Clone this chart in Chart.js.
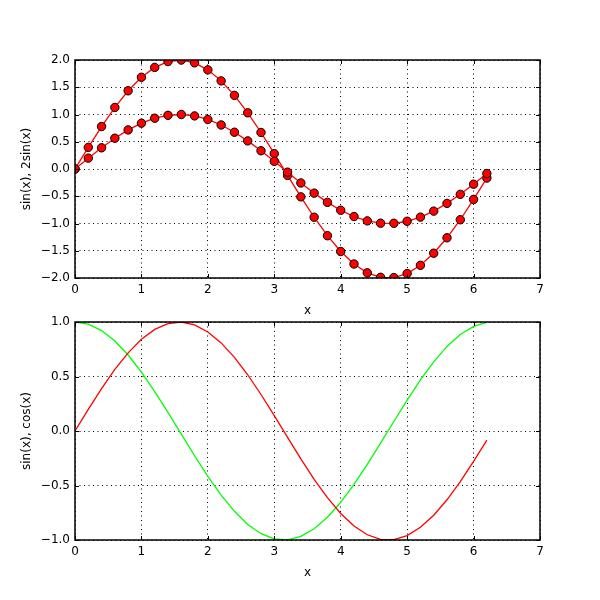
<!DOCTYPE html>
<html><head><meta charset="utf-8">
<script src="https://cdn.jsdelivr.net/npm/chart.js@4/dist/chart.umd.min.js"></script>
<style>
html,body{margin:0;padding:0;background:#fff;width:600px;height:600px;overflow:hidden;}
canvas{position:absolute;left:0;}
#c1{top:0;}
#c2{top:300px;}
</style></head><body>
<canvas id="c1" width="600" height="330"></canvas>
<canvas id="c2" width="600" height="300"></canvas>
<script>
const xValues = [0,0.2,0.4,0.6,0.8,1.0,1.2,1.4,1.6,1.8,2.0,2.2,2.4,2.6,2.8,3.0,3.2,3.4,3.6,3.8,4.0,4.2,4.4,4.6,4.8,5.0,5.2,5.4,5.6,5.8,6.0,6.2];
const sinValues = [0,0.199,0.389,0.565,0.717,0.841,0.932,0.985,1.000,0.974,0.909,0.808,0.675,0.516,0.335,0.141,-0.058,-0.256,-0.443,-0.612,-0.757,-0.872,-0.952,-0.994,-0.996,-0.959,-0.883,-0.773,-0.631,-0.465,-0.279,-0.083];
const twoSinValues = [0,0.397,0.779,1.129,1.435,1.683,1.864,1.971,1.999,1.948,1.819,1.617,1.351,1.031,0.670,0.282,-0.117,-0.511,-0.885,-1.224,-1.514,-1.743,-1.905,-1.987,-1.992,-1.918,-1.767,-1.545,-1.262,-0.931,-0.558,-0.166];
const cosValues = [1,0.980,0.921,0.825,0.697,0.540,0.362,0.170,-0.029,-0.227,-0.416,-0.589,-0.737,-0.857,-0.942,-0.990,-0.998,-0.967,-0.897,-0.791,-0.654,-0.490,-0.307,-0.112,0.087,0.284,0.469,0.635,0.776,0.886,0.960,0.997];
const xTicks = [0,1,2,3,4,5,6,7];
const yTicksTop = [-2,-1.5,-1,-0.5,0,0.5,1,1.5,2];
const yTicksBottom = [-1,-0.5,0,0.5,1];

const pts = (ys) => xValues.map((x,i)=>({x:x,y:ys[i]}));
const fmt = (v) => { const s = Math.abs(v).toFixed(1); return v < 0 ? '\u2212' + s : s; };
const FONT = {family:'DejaVu Sans', size:12};

const frame = {
  id:'frame',
  afterDraw(chart){
    const {ctx, chartArea:a, scales} = chart;
    ctx.save();
    ctx.strokeStyle = '#000';
    ctx.lineWidth = 1;
    const L = 4;
    ctx.beginPath();
    scales.x.ticks.forEach(t=>{
      const px = Math.round(scales.x.getPixelForValue(t.value))+0.5;
      ctx.moveTo(px, a.bottom); ctx.lineTo(px, a.bottom-L);
      ctx.moveTo(px, a.top); ctx.lineTo(px, a.top+L);
    });
    scales.y.ticks.forEach(t=>{
      const py = Math.round(scales.y.getPixelForValue(t.value))+0.5;
      ctx.moveTo(a.left, py); ctx.lineTo(a.left+L, py);
      ctx.moveTo(a.right, py); ctx.lineTo(a.right-L, py);
    });
    ctx.stroke();
    ctx.lineWidth = 1.5;
    ctx.strokeRect(a.left, a.top, a.right-a.left, a.bottom-a.top);
    ctx.restore();
  }
};

function makeChart(id, datasets, yTicks, yTitle, padTop, xAxisH, xTitlePad){
  return new Chart(document.getElementById(id), {
    type:'line',
    data:{datasets:datasets},
    plugins:[frame],
    options:{
      responsive:false, animation:false, devicePixelRatio:1,
      layout:{padding:{left:0,right:60,top:padTop,bottom:0}},
      plugins:{legend:{display:false}, tooltip:{enabled:false}},
      scales:{
        x:{type:'linear', min:0, max:7,
           afterBuildTicks:(s)=>{s.ticks = xTicks.map(v=>({value:v}));},
           afterFit:(s)=>{s.height = xAxisH;},
           ticks:{font:FONT, color:'#000', padding:5, maxRotation:0, autoSkip:false, callback:(v)=>String(v)},
           grid:{color:'#000', lineWidth:1, drawTicks:false},
           border:{display:false, dash:[1,3.5]},
           title:{display:true, text:'x', font:FONT, color:'#000', padding:{top:0,bottom:xTitlePad}}},
        y:{type:'linear', min:yTicks[0], max:yTicks[yTicks.length-1],
           afterBuildTicks:(s)=>{s.ticks = yTicks.map(v=>({value:v}));},
           afterFit:(s)=>{s.width = 75;},
           ticks:{font:FONT, color:'#000', padding:5, autoSkip:false, callback:(v)=>fmt(v)},
           grid:{color:'#000', lineWidth:1, drawTicks:false},
           border:{display:false, dash:[1,3.5]},
           title:{display:true, text:yTitle, font:FONT, color:'#000', padding:{top:20,bottom:0}}}
      }
    }
  });
}

const markerDs = (ys) => ({data:pts(ys), borderColor:'#ff0000', borderWidth:1.3, pointRadius:4.2, pointBackgroundColor:'#ff0000', pointBorderColor:'#000', pointBorderWidth:1, tension:0, clip:0});
const lineDs = (ys, c) => ({data:pts(ys), borderColor:c, borderWidth:1.3, pointRadius:0, tension:0, clip:0});

makeChart('c1', [markerDs(sinValues), markerDs(twoSinValues)], yTicksTop, 'sin(x), 2sin(x)', 60, 52, 12);
makeChart('c2', [lineDs(sinValues,'#ff0000'), lineDs(cosValues,'#00ff00')], yTicksBottom, 'sin(x), cos(x)', 22, 60, 20);
</script></body></html>
